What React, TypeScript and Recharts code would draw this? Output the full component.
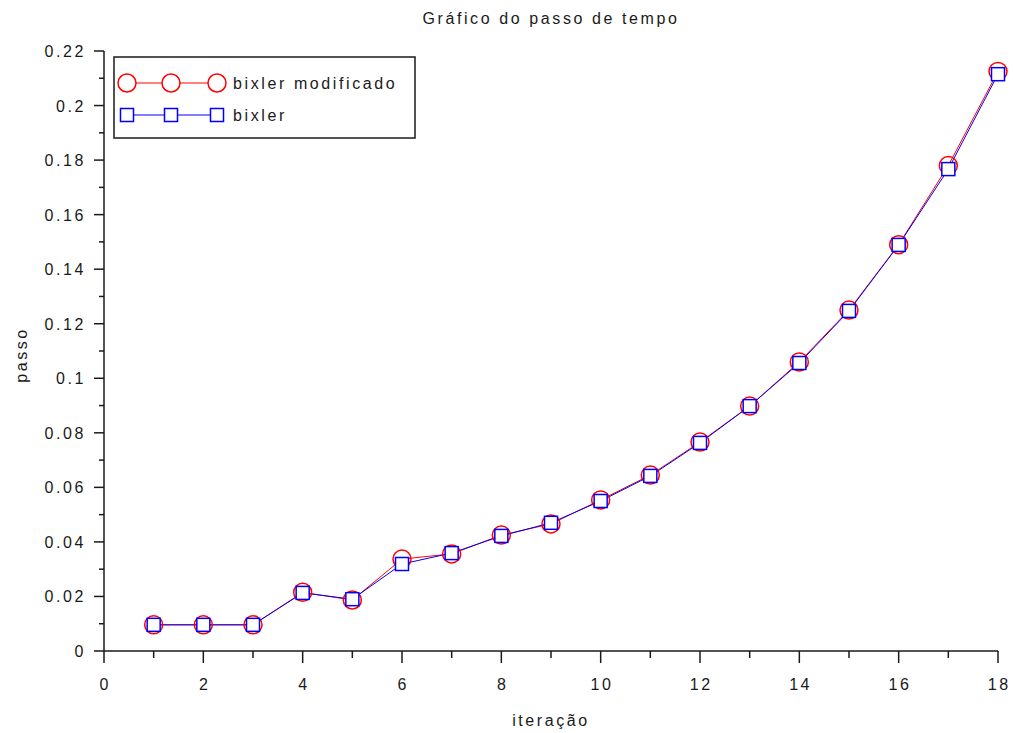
import { LineChart, Line, XAxis, YAxis, Legend, Label } from "recharts";

const iteracoes = [1, 2, 3, 4, 5, 6, 7, 8, 9, 10, 11, 12, 13, 14, 15, 16, 17, 18];
const passoModificado = [
  0.0096, 0.0096, 0.0096, 0.0215, 0.0187, 0.0337, 0.0356, 0.0425, 0.0466, 0.0554,
  0.0645, 0.0766, 0.0898, 0.106, 0.125, 0.149, 0.178, 0.2125,
];
const passoBixler = [
  0.0096, 0.0096, 0.0096, 0.0213, 0.019, 0.0319, 0.0359, 0.0422, 0.047, 0.055,
  0.0642, 0.0763, 0.0898, 0.1056, 0.1247, 0.1489, 0.1767, 0.2115,
];
const xTicks = [0, 1, 2, 3, 4, 5, 6, 7, 8, 9, 10, 11, 12, 13, 14, 15, 16, 17, 18];
const yTicks = [
  0, 0.01, 0.02, 0.03, 0.04, 0.05, 0.06, 0.07, 0.08, 0.09, 0.1, 0.11, 0.12, 0.13,
  0.14, 0.15, 0.16, 0.17, 0.18, 0.19, 0.2, 0.21, 0.22,
];

const data = iteracoes.map((it, i) => ({
  it,
  mod: passoModificado[i],
  bix: passoBixler[i],
}));

const FONT = "'Liberation Sans', Arial, sans-serif";
const INK = "#1a1a1a";
const FS = 16;
const LS = 2.6;

const XTick = (props: any) => {
  const { x, y, payload } = props;
  const major = payload.value % 2 === 0;
  return (
    <g>
      <line x1={x} y1={y} x2={x} y2={y + (major ? 12 : 7)} stroke={INK} strokeWidth={1.5} />
      {major && (
        <text x={x + LS / 2} y={y + 39} textAnchor="middle" fontSize={FS} fill={INK} fontFamily={FONT} letterSpacing={LS}>
          {payload.value}
        </text>
      )}
    </g>
  );
};

const YTick = (props: any) => {
  const { x, y, payload } = props;
  const major = Math.round(payload.value * 100) % 2 === 0;
  return (
    <g>
      <line x1={x} y1={y} x2={x - (major ? 10 : 5)} y2={y} stroke={INK} strokeWidth={1.5} />
      {major && (
        <text x={x - 18} y={y + 6} textAnchor="end" fontSize={FS} fill={INK} fontFamily={FONT} letterSpacing={LS}>
          {Number(payload.value.toFixed(2)).toString()}
        </text>
      )}
    </g>
  );
};

const Square = (props: any) => {
  const { cx, cy, index } = props;
  return (
    <rect key={"sq" + index} x={cx - 6.5} y={cy - 6.5} width={13} height={13} fill="#fff" stroke="#0000ff" strokeWidth={1.5} />
  );
};

const LegendBox = () => (
  <svg width={304} height={84}>
    <rect x={1} y={1} width={301} height={81} fill="#fff" stroke={INK} strokeWidth={1.5} />
    <line x1={14} y1={27} x2={104} y2={27} stroke="#ff0000" />
    {[14, 58, 104].map((cx) => (
      <circle key={"c" + cx} cx={cx} cy={27} r={9} fill="#fff" stroke="#ff0000" strokeWidth={1.5} />
    ))}
    <text x={120} y={33} fontSize={FS} fill={INK} fontFamily={FONT} letterSpacing={LS}>
      bixler modificado
    </text>
    <line x1={14} y1={59} x2={104} y2={59} stroke="#0000ff" />
    {[14, 58, 104].map((cx) => (
      <rect key={"s" + cx} x={cx - 6.5} y={52.5} width={13} height={13} fill="#fff" stroke="#0000ff" strokeWidth={1.5} />
    ))}
    <text x={120} y={65} fontSize={FS} fill={INK} fontFamily={FONT} letterSpacing={LS}>
      bixler
    </text>
  </svg>
);

export default function App() {
  return (
    <div style={{ position: "absolute", left: 0, top: 0, width: 1013, height: 733, background: "#fff" }}>
      <div
        style={{
          position: "absolute",
          left: 104,
          width: 894,
          top: 10,
          lineHeight: "18px",
          textAlign: "center",
          fontFamily: FONT,
          fontSize: FS,
          letterSpacing: LS,
          color: INK,
        }}
      >
        Gráfico do passo de tempo
      </div>
      <LineChart width={1013} height={733} data={data} margin={{ top: 51, right: 15, bottom: 0, left: 0 }}>
        <XAxis
          dataKey="it"
          type="number"
          domain={[0, 18]}
          ticks={xTicks}
          interval={0}
          height={82}
          tickSize={0}
          tickMargin={0}
          tick={<XTick />}
          axisLine={{ stroke: INK, strokeWidth: 1.5 }}
          tickLine={false}
        >
          <Label
            content={() => (
              <text x={551} y={726} textAnchor="middle" fontSize={FS} fill={INK} fontFamily={FONT} letterSpacing={LS}>
                iteração
              </text>
            )}
          />
        </XAxis>
        <XAxis xAxisId="top" orientation="top" type="number" domain={[0, 18]} height={0} tick={false} tickLine={false} axisLine={{ stroke: "#444", strokeWidth: 1.5 }} />
        <YAxis
          type="number"
          domain={[0, 0.22]}
          ticks={yTicks}
          interval={0}
          width={104}
          tickSize={0}
          tickMargin={0}
          tick={<YTick />}
          axisLine={{ stroke: INK, strokeWidth: 1.5 }}
          tickLine={false}
        >
          <Label
            content={() => (
              <text x={27} y={355} transform="rotate(-90 27 355)" textAnchor="middle" fontSize={FS} fill={INK} fontFamily={FONT} letterSpacing={LS}>
                passo
              </text>
            )}
          />
        </YAxis>
        <YAxis yAxisId="right" orientation="right" type="number" domain={[0, 0.22]} width={0} tick={false} tickLine={false} axisLine={{ stroke: "#444", strokeWidth: 1.5 }} />
        <Legend
          layout="vertical"
          align="center"
          verticalAlign="middle"
          wrapperStyle={{ left: 113, top: 56, width: 304, height: 84 }}
          content={<LegendBox />}
        />
        <Line
          dataKey="mod"
          stroke="#ff0000"
          strokeWidth={1}
          isAnimationActive={false}
          dot={{ r: 9, fill: "none", stroke: "#ff0000", strokeWidth: 1.5 }}
          activeDot={false}
        />
        <Line
          dataKey="bix"
          stroke="#0000ff"
          strokeWidth={1}
          isAnimationActive={false}
          dot={<Square />}
          activeDot={false}
        />
      </LineChart>
    </div>
  );
}
